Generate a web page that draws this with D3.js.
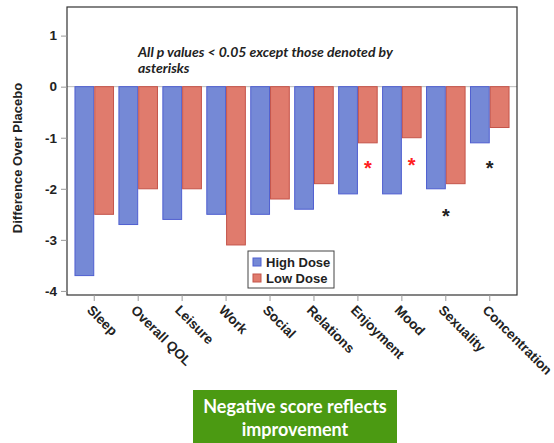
<!DOCTYPE html>
<html>
<head>
<meta charset="utf-8">
<script src="https://cdn.jsdelivr.net/npm/d3@7"></script>
<style>
  html, body { margin: 0; padding: 0; background: #fff; }
  svg { display: block; }
</style>
</head>
<body>
<svg id="chart" width="554" height="443"></svg>
<script>
// Quality-of-life domains
const categories = ["Sleep", "Overall QOL", "Leisure", "Work", "Social", "Relations",
                    "Enjoyment", "Mood", "Sexuality", "Concentration"];
const seriesNames = ["High Dose", "Low Dose"];
// Mean difference over placebo per domain
const highDose = [-3.7, -2.7, -2.6, -2.5, -2.5, -2.4, -2.1, -2.1, -2.0, -1.1];
const lowDose  = [-2.5, -2.0, -2.0, -3.1, -2.2, -1.9, -1.1, -1.0, -1.9, -0.8];
const yTicks = [1, 0, -1, -2, -3, -4];
// Non-significant results: which bar ("Low Dose") or whole group ("both")
const asterisks = [
  { category: "Enjoyment",     series: "Low Dose", value: -1.55, color: "#ff2020" },
  { category: "Mood",          series: "Low Dose", value: -1.50, color: "#ff2020" },
  { category: "Sexuality",     series: "both",     value: -2.50, color: "#222" },
  { category: "Concentration", series: "both",     value: -1.55, color: "#222" }
];
const noteLines = ["All p values < 0.05 except those denoted by", "asterisks"];
const calloutLines = ["Negative score reflects", "improvement"];

const colors = { "High Dose": "#7589d6", "Low Dose": "#e07b6d" };
const strokes = { "High Dose": "#4f5fd0", "Low Dose": "#c4544a" };

const svg = d3.select("#chart");
const plot = { left: 67, right: 517, top: 7, bottom: 295 };

const y = d3.scaleLinear().domain([-4.08, 1.56]).range([plot.bottom, plot.top]);
const x = d3.scaleBand().domain(categories).range([plot.left, plot.right])
  .paddingInner(0.1).paddingOuter(0.17);
const xs = d3.scaleBand().domain(seriesNames).range([0, x.bandwidth()]);

const rows = categories.map((c, i) => ({ category: c, values: [
  { series: "High Dose", value: highDose[i] },
  { series: "Low Dose", value: lowDose[i] }
]}));

// Zero reference line
svg.append("line")
  .attr("x1", plot.left).attr("x2", plot.right)
  .attr("y1", y(0)).attr("y2", y(0))
  .attr("stroke", "#bbb").attr("stroke-width", 1);

// Bars
const groups = svg.append("g").selectAll("g").data(rows).join("g")
  .attr("transform", d => `translate(${x(d.category)},0)`);
groups.selectAll("rect").data(d => d.values).join("rect")
  .attr("x", d => xs(d.series) + 0.5)
  .attr("width", xs.bandwidth() - 1)
  .attr("y", d => Math.min(y(0), y(d.value)))
  .attr("height", d => Math.abs(y(d.value) - y(0)))
  .attr("fill", d => colors[d.series])
  .attr("stroke", d => strokes[d.series])
  .attr("stroke-width", 1);

// Frame
svg.append("rect")
  .attr("x", plot.left).attr("y", plot.top)
  .attr("width", plot.right - plot.left).attr("height", plot.bottom - plot.top)
  .attr("fill", "none").attr("stroke", "#333").attr("stroke-width", 1.2);

// Y axis
const yAxis = svg.append("g").attr("transform", `translate(${plot.left},0)`)
  .call(d3.axisLeft(y).tickValues(yTicks).tickSize(6).tickPadding(4)
    .tickFormat(d => String(d)));
yAxis.select(".domain").remove();
yAxis.selectAll("line").attr("stroke", "#999");
yAxis.selectAll("text")
  .attr("font-family", "Liberation Sans, Arial, sans-serif")
  .attr("font-weight", "bold").attr("font-size", 13.5).attr("fill", "#222");

svg.append("text")
  .attr("transform", `translate(22,${(plot.top + plot.bottom) / 2 + 7}) rotate(-90)`)
  .attr("text-anchor", "middle")
  .attr("font-family", "Liberation Sans, Arial, sans-serif")
  .attr("font-weight", "bold").attr("font-size", 13).attr("fill", "#222")
  .text("Difference Over Placebo");

// X axis
const xAxis = svg.append("g").attr("transform", `translate(0,${plot.bottom})`)
  .call(d3.axisBottom(x).tickSize(6).tickFormat(""));
xAxis.select(".domain").remove();
xAxis.selectAll("line").attr("stroke", "#999");
xAxis.selectAll(".tick").append("text")
  .attr("transform", "translate(-8,16) rotate(45)")
  .attr("text-anchor", "start")
  .attr("font-family", "Liberation Sans, Arial, sans-serif")
  .attr("font-weight", "bold").attr("font-size", 13.5).attr("fill", "#222")
  .text(d => d);

// Significance note
svg.append("text")
  .attr("x", 138).attr("y", 57)
  .attr("font-family", "Lato, Open Sans, sans-serif")
  .attr("font-style", "italic").attr("font-weight", "bold")
  .attr("font-size", 14).attr("fill", "#222")
  .selectAll("tspan").data(noteLines).join("tspan")
  .attr("x", 138).attr("dy", (d, i) => i === 0 ? 0 : 16)
  .text(d => d);

// Asterisks
svg.append("g").selectAll("text").data(asterisks).join("text")
  .attr("x", d => x(d.category) + (d.series === "both" ? x.bandwidth() / 2
                                   : xs(d.series) + xs.bandwidth() / 2))
  .attr("y", d => y(d.value) + 9)
  .attr("text-anchor", "middle")
  .attr("font-family", "Liberation Sans, Arial, sans-serif")
  .attr("font-weight", "bold").attr("font-size", 20)
  .attr("fill", d => d.color)
  .text("*");

// Legend
const legend = svg.append("g").attr("transform", "translate(248,251)");
legend.append("rect").attr("width", 86).attr("height", 37)
  .attr("fill", "#fff").attr("stroke", "#444").attr("stroke-width", 1);
const items = legend.selectAll("g").data(seriesNames).join("g")
  .attr("transform", (d, i) => `translate(5,${11 + i * 16})`);
items.append("rect").attr("x", 0).attr("y", -4).attr("width", 8).attr("height", 8)
  .attr("fill", d => colors[d]).attr("stroke", d => strokes[d]);
items.append("text").attr("x", 13).attr("y", 5)
  .attr("font-family", "Liberation Sans, Arial, sans-serif")
  .attr("font-weight", "bold").attr("font-size", 13).attr("fill", "#222")
  .text(d => d);

// Callout
svg.append("rect").attr("x", 193).attr("y", 390).attr("width", 204).attr("height", 60)
  .attr("fill", "#4b9a12");
svg.append("text")
  .attr("text-anchor", "middle")
  .attr("font-family", "Lato, Open Sans, sans-serif")
  .attr("font-weight", "bold").attr("font-size", 18).attr("fill", "#fff")
  .selectAll("tspan").data(calloutLines).join("tspan")
  .attr("x", 295).attr("y", (d, i) => 413 + i * 23)
  .text(d => d);
</script>
</body>
</html>
